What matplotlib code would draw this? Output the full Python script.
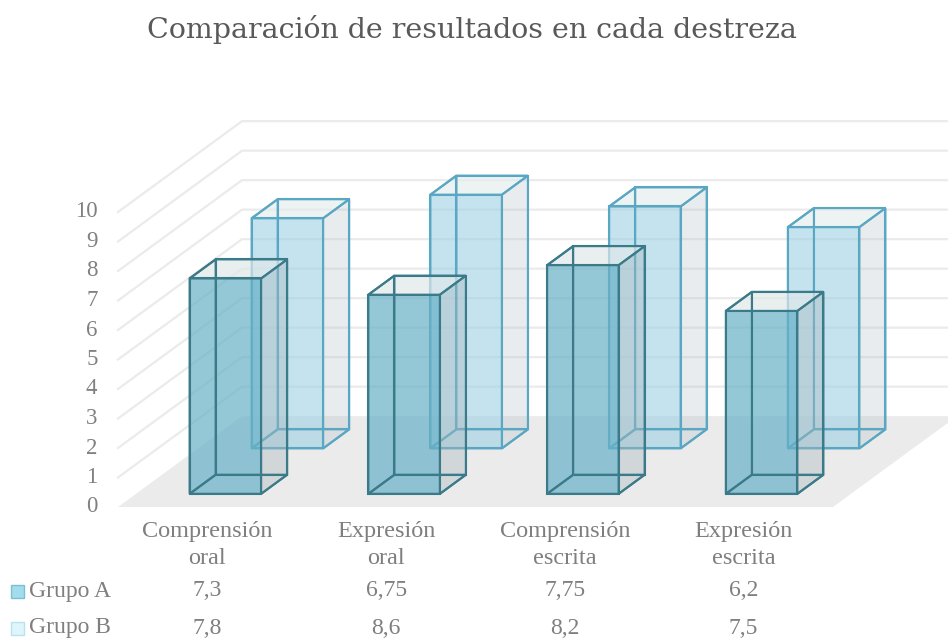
import numpy as np
import matplotlib.pyplot as plt
from matplotlib.patches import Polygon

# ---- data ----
categorias = ['Comprensión\noral', 'Expresión\noral', 'Comprensión\nescrita', 'Expresión\nescrita']
grupo_a = [7.3, 6.75, 7.75, 6.2]
grupo_b = [7.8, 8.6, 8.2, 7.5]
series = ['Grupo A', 'Grupo B']
yticks = list(range(0, 11))

# ---- oblique "3D" geometry (data units: x = category, y = value) ----
DX, DY = 0.694, 3.08      # shift of the back plane
HALF_W = 0.2              # half bar width
BAR_D = 0.21              # bar depth (fraction of full depth)
DEPTH = [0.25, 0.75]      # depth centers of the two series

def P(x, y, d):
    return (x + d * DX, y + d * DY)

W, H = 948, 639
fig = plt.figure(figsize=(W / 100, H / 100), dpi=100)
ax = fig.add_axes([0, 0, 1, 1])
px_x, px_y = 178.75, 29.5
x0, y0 = 118, 507
ax.set_xlim(-x0 / px_x, (W - x0) / px_x)
ax.set_ylim(-(H - y0) / px_y, y0 / px_y)
ax.axis('off')

grid_c = '#ebebeb'
n = len(categorias)
# floor
floor = [P(0, 0, 0), P(0, 0, 1), P(n, 0, 1), P(n, 0, 0)]
ax.add_patch(Polygon(floor, closed=True, fc='#ebebeb', ec='none', zorder=1))
# gridlines on side wall + back wall
for v in yticks[1:]:
    a, b, c = P(0, v, 0), P(0, v, 1), P(n, v, 1)
    ax.plot([a[0], b[0], c[0]], [a[1], b[1], c[1]], color=grid_c, lw=1.6, zorder=0.5)

tick_c = '#808080'
for v in yticks:
    ax.text(-0.115, v, str(v), ha='right', va='center', fontsize=16.5,
            family='Liberation Serif', color=tick_c)

styles = [
    dict(front=('#5fb0c8', 0.62), side=('#aab8c0', 0.22), top=('#e8efef', 0.6), edge='#3b7a89'),
    dict(front=('#9ad4e8', 0.52), side=('#a9b7c0', 0.13), top=('#eaf0f0', 0.6), edge='#59a7c2'),
]

def draw_bar(cx, val, dc, st, z):
    xl, xr = cx - HALF_W, cx + HALF_W
    d0, d1 = dc - BAR_D / 2, dc + BAR_D / 2
    faces = [
        ([P(xl, 0, d1), P(xr, 0, d1), P(xr, val, d1), P(xl, val, d1)], st['side']),   # back
        ([P(xl, 0, d0), P(xl, 0, d1), P(xl, val, d1), P(xl, val, d0)], st['side']),   # left
        ([P(xl, 0, d0), P(xr, 0, d0), P(xr, 0, d1), P(xl, 0, d1)], st['side']),       # bottom
        ([P(xr, 0, d0), P(xr, 0, d1), P(xr, val, d1), P(xr, val, d0)], st['side']),   # right
        ([P(xl, val, d0), P(xr, val, d0), P(xr, val, d1), P(xl, val, d1)], st['top']),  # top
        ([P(xl, 0, d0), P(xr, 0, d0), P(xr, val, d0), P(xl, val, d0)], st['front']),  # front
    ]
    for pts, (c, a) in faces:
        ax.add_patch(Polygon(pts, closed=True, fc=c, alpha=a, ec='none', zorder=z))
    for pts, _ in faces:
        ax.add_patch(Polygon(pts, closed=True, fill=False, ec=st['edge'], lw=1.5,
                             joinstyle='miter', zorder=z + 0.1))

# back series first
for s in [1, 0]:
    vals = grupo_b if s == 1 else grupo_a
    for i, v in enumerate(vals):
        draw_bar(i + 0.5, v, DEPTH[s], styles[s], 2 + (1 - s) * 2 + i * 0.01)

# ---- data table ----
txt_c = '#7f7f7f'
def ypx(p):
    return -(p - y0) / px_y
def xpx(p):
    return (p - x0) / px_x

for i, c in enumerate(categorias):
    ax.text(i + 0.5, ypx(545), c, ha='center', va='center', fontsize=17.5,
            family='Liberation Serif', color=txt_c, linespacing=1.4)

key_cols = [('#a3dcec', '#7cbfd4'), ('#def6fb', '#b7e3ee')]
for r, (name, vals) in enumerate(zip(series, [grupo_a, grupo_b])):
    yy = ypx(591 + r * 37)
    ax.text(xpx(29), yy, name, ha='left', va='center', fontsize=17,
            family='Liberation Serif', color=txt_c)
    kx0, kx1 = xpx(11), xpx(24)
    kh = 13 / px_y / 2
    ax.add_patch(Polygon([(kx0, yy - kh), (kx1, yy - kh), (kx1, yy + kh), (kx0, yy + kh)],
                         closed=True, fc=key_cols[r][0], ec=key_cols[r][1], lw=1))
    for i, v in enumerate(vals):
        ax.text(i + 0.5, yy, str(v).replace('.', ','), ha='center', va='center',
                fontsize=17, family='Liberation Serif', color=txt_c)

fig.text(472 / W, 1 - 30 / H, 'Comparación de resultados en cada destreza',
         ha='center', va='center', fontsize=20.5, family='DejaVu Serif', color='#595959')

fig.savefig('out.png', dpi=100)
